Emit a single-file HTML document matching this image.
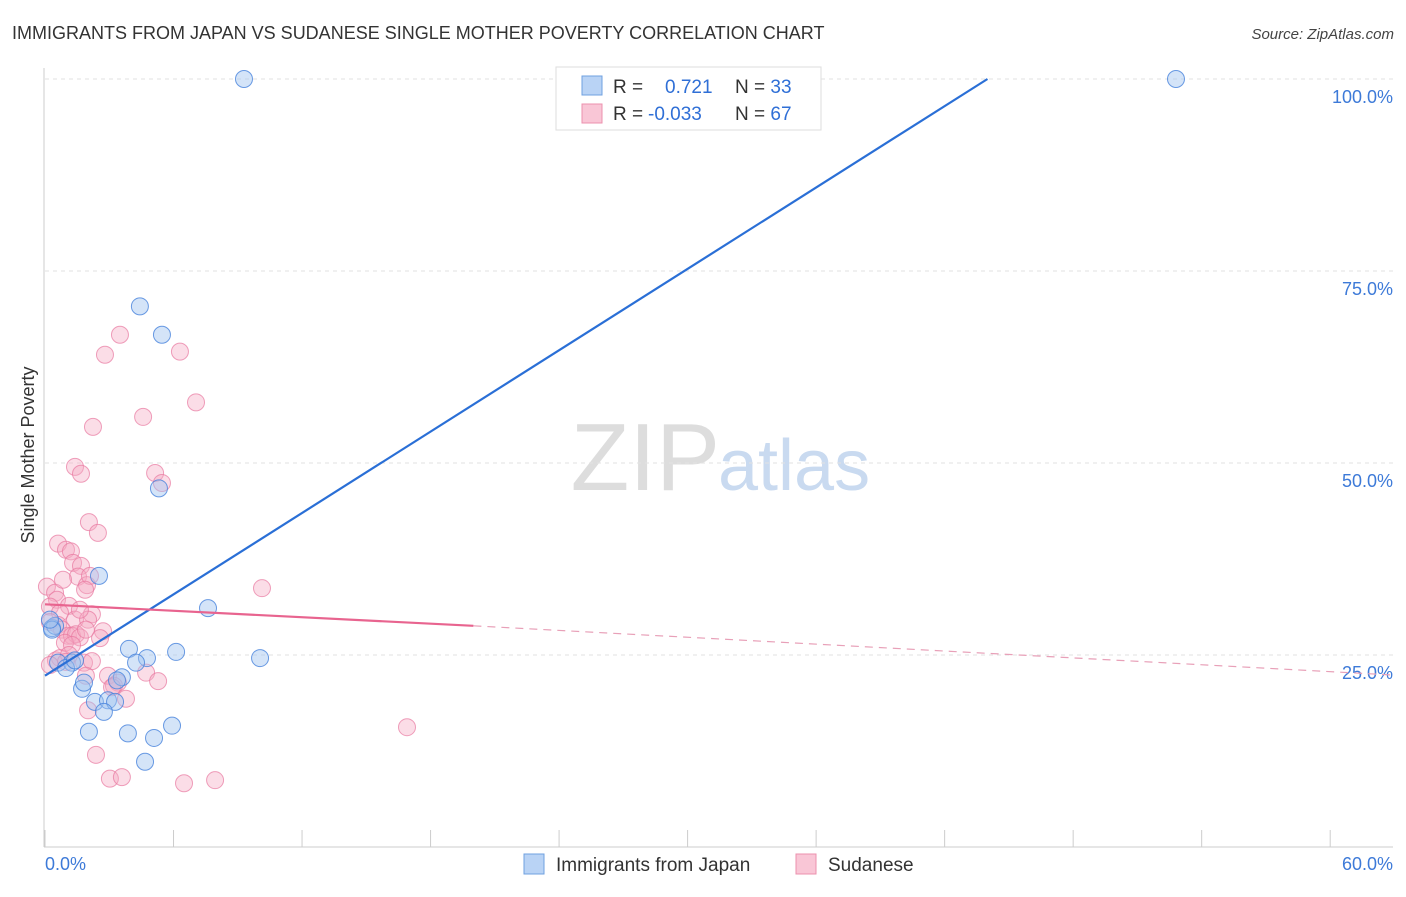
<!DOCTYPE html>
<html><head><meta charset="utf-8"><style>
body{margin:0;background:#fff;font-family:"Liberation Sans",sans-serif}
svg text{font-family:"Liberation Sans",sans-serif}
</style></head><body>
<svg id="c" width="1406" height="892">
<text x="12" y="39" font-size="18" fill="#333">IMMIGRANTS FROM JAPAN VS SUDANESE SINGLE MOTHER POVERTY CORRELATION CHART</text>
<text x="1394" y="39" font-size="15" fill="#444" font-style="italic" text-anchor="end">Source: ZipAtlas.com</text>
<text x="720" y="490" font-size="96" fill="#ddd" text-anchor="end" font-family="Liberation Serif">ZIP</text>
<text x="718" y="490" font-size="72" fill="#c9daf0">atlas</text>
<text transform="translate(34,455) rotate(-90)" font-size="18" fill="#333" text-anchor="middle">Single Mother Poverty</text>
<g id="grid"></g><g id="marks"></g>
<g>
<rect x="556" y="67" width="265" height="63" fill="#fff" stroke="#ddd"/>
<rect x="582" y="76" width="20" height="19" fill="#b9d3f5" stroke="#6fa0e0"/>
<rect x="582" y="104" width="20" height="19" fill="#f9c6d6" stroke="#ec90ae"/>
<text x="613" y="93" font-size="19" fill="#333">R = <tspan x="665" fill="#2f6fd6">0.721</tspan><tspan x="735" fill="#333">N = </tspan><tspan fill="#2f6fd6">33</tspan></text>
<text x="613" y="120" font-size="19" fill="#333">R = <tspan x="648" fill="#2f6fd6">-0.033</tspan><tspan x="735" fill="#333">N = </tspan><tspan fill="#2f6fd6">67</tspan></text>
</g>
<g>
<rect x="524" y="854" width="20" height="20" fill="#b9d3f5" stroke="#6fa0e0"/>
<text x="556" y="871" font-size="19" fill="#333">Immigrants from Japan</text>
<rect x="796" y="854" width="20" height="20" fill="#f9c6d6" stroke="#ec90ae"/>
<text x="828" y="871" font-size="19" fill="#333">Sudanese</text>
</g>
</svg>
<script>
const yTicks=[25,50,75,100];
const xTickLabels=["0.0%","60.0%"];
const japanX=[9.29,52.8,4.43,5.46,5.32,2.52,7.61,0.33,0.47,3.92,4.76,6.12,10.04,4.25,0.61,1.26,0.98,1.40,3.59,3.36,1.73,1.82,2.33,2.94,3.27,2.75,2.05,3.87,5.09,5.93,4.67,0.33,0.23];
const japanY=[100,100,70.4,66.7,46.7,35.3,31.1,28.5,28.8,25.8,24.6,25.4,24.6,24.0,24.0,24.0,23.3,24.3,22.1,21.7,20.6,21.4,18.9,19.1,18.9,17.6,15.0,14.8,14.2,15.8,11.1,28.3,29.6];
const sudX=[2.80,3.50,6.30,7.05,2.24,4.58,1.40,1.68,5.14,5.46,2.05,2.47,0.61,0.98,1.21,1.31,1.68,1.54,1.96,2.10,0.09,10.13,0.47,0.56,1.12,0.23,0.70,2.19,1.40,2.01,2.71,0.23,0.61,0.79,1.07,1.26,1.45,1.63,2.57,1.91,0.93,1.26,0.51,0.70,1.82,2.19,2.94,3.41,3.22,3.78,4.72,5.28,1.91,2.01,3.13,2.38,3.03,3.59,6.49,7.94,16.90,1.12,0.98,0.23,1.63,0.84,1.87];
const sudY=[64.1,66.7,64.5,57.9,54.7,56.0,49.5,48.6,48.7,47.4,42.3,40.9,39.5,38.7,38.5,37.0,36.6,35.2,34.1,35.3,33.9,33.7,33.1,32.2,31.4,31.3,30.5,30.3,29.6,29.6,28.1,29.3,28.9,28.3,27.5,27.5,27.7,27.3,27.2,28.3,26.6,26.3,24.3,24.6,24.0,24.2,22.3,21.4,21.0,19.3,22.7,21.6,22.3,17.8,20.8,12.0,8.9,9.1,8.3,8.7,15.6,25.0,24.1,23.7,30.9,34.8,33.5];
const japanTrend=[[0,22.3],[44.0,100]];
const sudTrendSolid=[[0,31.6],[20,28.8]];
const sudTrendDash=[[20,28.8],[62.9,22.4]];
const X=v=>45+v*21.42, Y=v=>847-v*7.68;
const NS="http://www.w3.org/2000/svg";
const grid=document.getElementById('grid'), marks=document.getElementById('marks');
function mk(p,tag,a){const e=document.createElementNS(NS,tag);for(const k in a)e.setAttribute(k,a[k]);p.appendChild(e);return e;}
let ax=mk(grid,'line',{x1:44,x2:44,y1:68,y2:847,stroke:'#ccc'});


let bx=mk(grid,'line',{x1:44,x2:1393,y1:847,y2:847,stroke:'#ccc'});


for(let i=0;i<=10;i++){let t=mk(grid,'line',{x1:X(i*6),x2:X(i*6),y1:830,y2:847,stroke:'#ccc'});

}
yTicks.forEach(v=>{let g=mk(grid,'line',{x1:45,x2:1393,y1:Y(v),y2:Y(v),stroke:'#e2e2e2','stroke-dasharray':'4,4'});


let t=mk(grid,'text',{x:1393,y:Y(v)+24,'font-size':18,fill:'#3d7ad8','text-anchor':'end'});t.textContent=v.toFixed(1)+'%';

});
[[0,'start',45],[1,'end',1393]].forEach(([i,an,x])=>{let t=mk(grid,'text',{x:x,y:870,'font-size':18,fill:'#3d7ad8','text-anchor':an});t.textContent=xTickLabels[i];

});
sudX.forEach((x,i)=>{let c=mk(marks,'circle',{cx:X(x),cy:Y(sudY[i]),r:8.5,fill:'rgba(246,170,195,0.4)',stroke:'rgba(232,120,160,0.7)','stroke-width':1});

});
japanX.forEach((x,i)=>{let c=mk(marks,'circle',{cx:X(x),cy:Y(japanY[i]),r:8.5,fill:'rgba(160,195,240,0.45)',stroke:'rgba(70,130,220,0.8)','stroke-width':1});

});
let l1=mk(marks,'line',{x1:X(japanTrend[0][0]),y1:Y(japanTrend[0][1]),x2:X(japanTrend[1][0]),y2:Y(japanTrend[1][1]),stroke:'#2a6fd6','stroke-width':2.2});


let l2=mk(marks,'line',{x1:X(sudTrendSolid[0][0]),y1:Y(sudTrendSolid[0][1]),x2:X(sudTrendSolid[1][0]),y2:Y(sudTrendSolid[1][1]),stroke:'#e8648f','stroke-width':2.2});


let l3=mk(marks,'line',{x1:X(sudTrendDash[0][0]),y1:Y(sudTrendDash[0][1]),x2:X(sudTrendDash[1][0]),y2:Y(sudTrendDash[1][1]),stroke:'#e8a0b8','stroke-width':1.2,'stroke-dasharray':'8,6'});


</script>
</body></html>
